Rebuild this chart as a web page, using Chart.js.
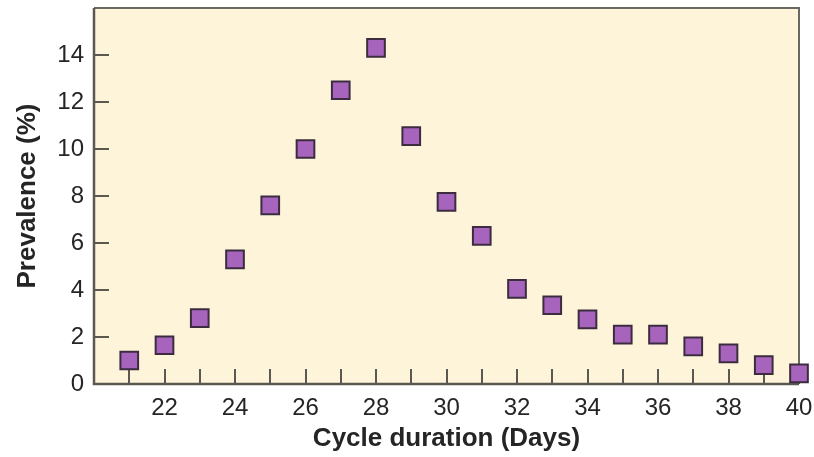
<!DOCTYPE html>
<html>
<head>
<meta charset="utf-8">
<script src="https://cdn.jsdelivr.net/npm/chart.js@4/dist/chart.umd.min.js"></script>
<style>
  html, body { margin: 0; padding: 0; background: #ffffff; }
  #wrap { width: 814px; height: 457px; position: relative; }
</style>
</head>
<body>
<div id="wrap"><canvas id="c" width="814" height="457"></canvas></div>
<script>
// ---- data ----
const days = [21, 22, 23, 24, 25, 26, 27, 28, 29, 30, 31, 32, 33, 34, 35, 36, 37, 38, 39, 40];
const prevalence = [1.0, 1.65, 2.8, 5.3, 7.6, 10.0, 12.5, 14.3, 10.55, 7.75, 6.3, 4.05, 3.35, 2.75, 2.1, 2.1, 1.6, 1.3, 0.8, 0.45];
const xTickLabels = [22, 24, 26, 28, 30, 32, 34, 36, 38, 40];
const yTickLabels = [0, 2, 4, 6, 8, 10, 12, 14];
const xTitle = 'Cycle duration (Days)';
const yTitle = 'Prevalence (%)';

const points = days.map((d, i) => ({ x: d, y: prevalence[i] }));

const frameColor = '#5b5852';
const textColor = '#252525';

const framePlugin = {
  id: 'frame',
  beforeDraw(chart) {
    const { ctx, chartArea: a } = chart;
    ctx.save();
    ctx.fillStyle = '#fdf4da';
    ctx.fillRect(a.left, a.top, a.right - a.left, a.bottom - a.top);
    ctx.restore();
  },
  beforeDatasetsDraw(chart) {
    const { ctx, chartArea: a, scales } = chart;
    const tickLen = 15;
    ctx.save();
    ctx.strokeStyle = frameColor;
    ctx.lineWidth = 2;
    scales.x.ticks.forEach(t => {
      if (t.value <= scales.x.min) return;
      const px = Math.round(scales.x.getPixelForValue(t.value));
      ctx.beginPath();
      ctx.moveTo(px, a.bottom);
      ctx.lineTo(px, a.bottom - tickLen);
      ctx.stroke();
    });
    scales.y.ticks.forEach(t => {
      if (t.value <= scales.y.min || t.value >= scales.y.max) return;
      const py = Math.round(scales.y.getPixelForValue(t.value));
      ctx.beginPath();
      ctx.moveTo(a.left, py);
      ctx.lineTo(a.left + tickLen, py);
      ctx.stroke();
    });
    ctx.strokeStyle = '#6b6862';
    ctx.lineWidth = 2;
    ctx.beginPath();
    ctx.moveTo(a.left, a.top);
    ctx.lineTo(a.right, a.top);
    ctx.lineTo(a.right, a.bottom);
    ctx.stroke();
    ctx.strokeStyle = frameColor;
    ctx.lineWidth = 2.5;
    ctx.beginPath();
    ctx.moveTo(a.left, a.top);
    ctx.lineTo(a.left, a.bottom);
    ctx.lineTo(a.right, a.bottom);
    ctx.stroke();
    ctx.restore();
  }
};

new Chart(document.getElementById('c'), {
  type: 'scatter',
  data: {
    datasets: [{
      data: points,
      pointStyle: 'rect',
      pointRadius: 12.5,
      pointHoverRadius: 12.5,
      backgroundColor: '#a664bd',
      borderColor: '#3d2c3f',
      borderWidth: 2,
      clip: false
    }]
  },
  options: {
    responsive: false,
    animation: false,
    events: [],
    layout: { autoPadding: false, padding: { left: 0, right: 15, top: 8, bottom: 0 } },
    plugins: { legend: { display: false }, tooltip: { enabled: false } },
    scales: {
      x: {
        type: 'linear',
        min: 20,
        max: 40,
        afterFit(s) { s.height = 73; s.paddingLeft = 0; s.paddingRight = 0; },
        grid: { display: false, drawTicks: false },
        border: { display: false },
        ticks: {
          stepSize: 1,
          autoSkip: false,
          maxRotation: 0,
          padding: 10,
          color: textColor,
          font: { family: 'Liberation Sans, Arial, sans-serif', size: 24 },
          callback: v => (xTickLabels.includes(v) ? String(v) : '')
        },
        title: {
          display: true,
          text: xTitle,
          color: textColor,
          font: { family: 'Liberation Sans, Arial, sans-serif', size: 26, weight: 'bold' },
          padding: { top: 0, bottom: 3 }
        }
      },
      y: {
        min: 0,
        max: 16,
        afterFit(s) { s.width = 94; s.paddingTop = 0; s.paddingBottom = 0; },
        grid: { display: false, drawTicks: false },
        border: { display: false },
        ticks: {
          stepSize: 2,
          padding: 10,
          color: textColor,
          font: { family: 'Liberation Sans, Arial, sans-serif', size: 24 },
          callback: v => (yTickLabels.includes(v) ? String(v) : '')
        },
        title: {
          display: true,
          text: yTitle,
          color: textColor,
          font: { family: 'Liberation Sans, Arial, sans-serif', size: 26, weight: 'bold' },
          padding: { top: 12, bottom: 0 }
        }
      }
    }
  },
  plugins: [framePlugin]
});
</script>
</body>
</html>
